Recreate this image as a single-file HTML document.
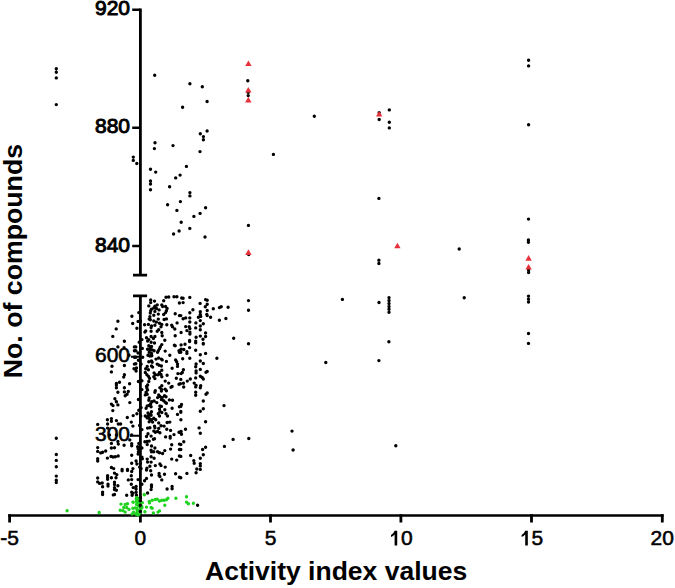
<!DOCTYPE html><html><head><meta charset="utf-8"><style>html,body{margin:0;padding:0;background:#fff;}svg{display:block;}</style></head><body>
<svg width="675" height="588" viewBox="0 0 675 588">
<rect width="675" height="588" fill="#fff"/>
<path d="M140.4 8.6V276.4M133 275.1H147.1M133 295.8H147.1M140.4 294.5V516.9" stroke="#000" stroke-width="2.8" fill="none"/>
<path d="M132.2 9.8H140.4M132.2 127.8H140.4M132.2 245.9H140.4" stroke="#000" stroke-width="2.5" fill="none"/>
<path d="M131 356.8H140.4M130 435.7H140.4" stroke="#000" stroke-width="2" fill="none"/>
<path d="M8.2 515.5H663.6" stroke="#000" stroke-width="2.7" fill="none"/>
<path d="M9.6 514.2V522.6M140.4 514.2V522.6M270.5 514.2V522.6M400.9 514.2V522.6M531.5 514.2V522.6M662.3 514.2V522.6" stroke="#000" stroke-width="2.8" fill="none"/>
<path d="M56.3 68.8h0M56.3 72.2h0M56.3 77.9h0M56.3 104.6h0M56.3 438.2h0M56.3 454.5h0M56.3 460.4h0M56.3 466.7h0M56.3 476.1h0M56.3 480.2h0M56.3 482.6h0M133.3 157.1h0M133.3 160.4h0M136.8 163.5h0M154.7 75.2h0M189.9 83.8h0M202.3 86.8h0M207.1 101.5h0M182.6 107.3h0M207.1 131h0M200.3 133.7h0M203.4 136.6h0M203.4 139.7h0M155 142.7h0M154.4 148.6h0M173 145.6h0M200 151.6h0M150.5 169.2h0M155.7 172.1h0M186.4 166.4h0M180.1 175.1h0M175.7 177.9h0M150.5 181h0M150.5 184h0M150.5 189.8h0M169.6 186.8h0M189.9 192.6h0M189.9 195.9h0M180.4 201.6h0M167.6 204.7h0M176.9 210.4h0M205.6 207.8h0M200.1 213.4h0M193.9 216.4h0M181.2 222.3h0M189.8 228.4h0M179.1 231h0M173.6 234h0M205 237h0M247.8 80.8h0M248.2 92.4h0M248.2 95.6h0M248.4 225.4h0M248.7 254.5h0M314.3 116.3h0M273.4 154.4h0M379.2 112.7h0M379.2 119.5h0M389.3 109.9h0M389.3 122.2h0M389.3 127.9h0M378.9 198.4h0M378.9 260.3h0M378.9 263.5h0M459.2 249h0M528.6 60.2h0M528.6 65.9h0M528.6 124.8h0M528.5 219.1h0M528.4 240h0M528.4 242.3h0M528.6 270h0M528.6 272.5h0M248.5 300.6h0M248.5 310.3h0M248.5 343.8h0M233.7 338.2h0M228.1 307.2h0M225.9 318.5h0M342.4 299.4h0M325.8 362.5h0M379 302.5h0M389 297.6h0M389 300.5h0M389 303.5h0M389 306.5h0M389 309.3h0M389 312.2h0M388.9 341.8h0M378.9 360.6h0M464.2 297.7h0M528.5 296.1h0M528.5 299.2h0M528.5 302.1h0M528.5 333.5h0M528.5 343.4h0M248.8 438.5h0M233.1 439.4h0M292 431.1h0M293.1 450h0M395.8 445.8h0M166 297.3h0M168.7 297h0M174 296.7h0M176.9 296.7h0M179.4 303h0M150.7 299.9h0M154.5 301.1h0M150.7 302.6h0M163.7 300.7h0M148.8 305.9h0M157.2 304.9h0M154.9 306.1h0M161.8 304.9h0M162.6 306.5h0M165.6 306.5h0M167.1 308.4h0M151.5 309.1h0M153.8 308h0M156.4 308.4h0M159.1 309.9h0M150.7 310.7h0M154.9 311.4h0M166.4 310.7h0M165.6 312.6h0M163.7 314.5h0M150.3 313h0M153.8 315.3h0M158.3 314.1h0M175.2 313.7h0M179.4 315.6h0M149.9 316.8h0M149.2 319.1h0M150.3 319.8h0M158.3 319.1h0M164.1 319.5h0M166.4 318.9h0M138.8 312.6h0M138.1 321.4h0M140.4 321h0M153.8 321h0M156.4 322.1h0M159.5 323.3h0M144.6 324.8h0M148.4 324.4h0M151.5 326h0M151.1 327.5h0M154.9 325.2h0M161.8 324.4h0M161 326.7h0M166.8 324.8h0M171.7 325.2h0M172.5 326.7h0M177.1 322.9h0M174.8 329h0M136.9 328.3h0M145.7 330.9h0M144.9 332.1h0M151.1 331.3h0M157.2 331.3h0M158.7 329.8h0M161.8 332.5h0M181.7 298h0M183.1 298.3h0M183.1 302.6h0M189.8 297.4h0M205.6 299.6h0M207.2 300.3h0M200.1 303.4h0M207.2 304.2h0M205.3 306.8h0M213.3 308.8h0M219.4 307.6h0M221.2 306.8h0M192.9 309.7h0M207.2 310.5h0M200.3 311.8h0M189.8 312.8h0M206.8 314.5h0M207.2 315.6h0M200.3 314.5h0M200.7 316.4h0M198.4 317.2h0M210.6 317.2h0M180.8 315.6h0M183.1 318.7h0M185.7 317.9h0M189.8 317.9h0M219.4 320.2h0M200.3 320.6h0M189.8 322h0M195.9 322.9h0M203.3 323.7h0M185.7 326.6h0M189.2 326.7h0M189.9 328.6h0M200.3 326h0M195.7 327.9h0M200.3 329.8h0M186.9 330.6h0M181.1 332.5h0M189.9 332.1h0M189.9 334h0M205.6 332.9h0M131.9 316.2h0M132.7 323.5h0M117.9 321.2h0M116.2 328.9h0M112.8 336.4h0M124.4 341.3h0M117.9 346.9h0M124.1 347.6h0M129 355.3h0M112 366.2h0M124.4 365.5h0M111.4 371.9h0M124.4 374.8h0M123.7 377.1h0M134.4 346.9h0M134.4 350.7h0M134.4 357.2h0M134.4 364.1h0M134 368.7h0M135.8 346.9h0M135.8 350.7h0M138.1 353h0M135.8 357.2h0M135.8 363.7h0M136.5 367.9h0M136.1 371h0M141.9 339.6h0M139.2 342.3h0M142.3 348.4h0M142.7 357.2h0M141.1 364.1h0M138.4 360.3h0M146.5 337.7h0M148.8 339.6h0M147.6 341.1h0M151.1 336.5h0M153.4 338.4h0M154.9 336.5h0M151.1 342.3h0M154.5 343h0M148.8 345.7h0M150.3 347.6h0M151.5 346.5h0M147.6 349.2h0M149.9 349.9h0M152.2 349.9h0M154.1 350.7h0M149.2 352.2h0M151.5 353.4h0M148 355.3h0M149.9 356h0M151.8 355.7h0M148.8 361.8h0M151.5 361h0M152.2 362.2h0M147.2 366.4h0M151.5 366h0M152.6 367.1h0M145.7 368.7h0M148.4 369.8h0M145.3 372.5h0M146.9 374.8h0M148.4 376.3h0M149.5 378.2h0M154.1 372.9h0M155.3 374.8h0M153.8 376.7h0M154.9 378.6h0M162.2 335.8h0M164.8 340.2h0M161.8 344.6h0M160.3 346.9h0M159.5 348.8h0M158.3 350.7h0M157.6 352.2h0M156 359.1h0M158.7 358h0M161.4 359.1h0M162.2 359.9h0M157.2 364.1h0M159.1 365.2h0M161.4 366h0M161.8 370.2h0M159.5 372.5h0M161 374.4h0M161.8 376.7h0M158 374.8h0M165.2 351.1h0M166.4 361.4h0M175.2 335.8h0M174.4 345.3h0M175.2 345.7h0M169.8 355.3h0M179 350.7h0M179.4 352.2h0M175.6 359.9h0M176.7 361.8h0M177.5 364.1h0M177.5 366.4h0M172.1 368.3h0M177.9 373.6h0M167.1 375.2h0M176.3 378.2h0M196.1 337.3h0M200.3 336.1h0M205.6 336.5h0M203 339.2h0M189.6 340.4h0M189.6 341.5h0M195.7 341.1h0M195.7 342.7h0M203.3 343.4h0M203.3 344h0M185 344.2h0M181.1 344.9h0M189.6 347.6h0M181.1 349.2h0M183.8 349.5h0M186.9 351.8h0M186.9 353.4h0M180.8 352.2h0M195.7 350.3h0M200.3 354.7h0M205.6 353.4h0M182.7 358.7h0M189.8 358.3h0M216.9 358.3h0M200.3 361h0M203.3 363.5h0M196.1 363.9h0M195.7 366.8h0M200.3 369.4h0M183.4 369.8h0M182.3 372.5h0M181.1 373.6h0M196.1 371h0M196.1 372.9h0M206 372.3h0M207.2 371.4h0M200.3 376.3h0M202.2 377.5h0M203.3 379h0M190.3 379h0M195.7 377.9h0M180.8 379.4h0M116.4 383.4h0M119.5 382.3h0M116.4 385h0M116.4 387.7h0M129.6 383.8h0M124.4 387.7h0M117.9 392.2h0M124.4 391.9h0M128.3 391.5h0M127.1 394.2h0M125.2 395.7h0M114.9 398.8h0M116.4 401.8h0M117.9 404.9h0M111.4 404.1h0M113 405.6h0M129.8 402.6h0M112.8 410.6h0M133.2 415.6h0M127.3 417.5h0M107.4 419.8h0M111.4 418.6h0M111.4 421.3h0M116.4 420.6h0M131.3 422.1h0M97.7 424.4h0M107.6 424h0M118.3 424h0M120.6 424h0M138.4 381.5h0M141.9 380.8h0M141.9 389.6h0M138.4 399.5h0M141.1 407.6h0M138.8 410.2h0M136.9 413.7h0M140.7 416h0M148.8 381.5h0M147.6 385h0M146.5 386.5h0M146.9 388h0M147.6 389.9h0M146.1 392.2h0M145.3 394.9h0M147.2 394.2h0M149.2 398h0M148.8 400.3h0M151.8 401.8h0M154.1 401h0M156.8 402.6h0M150.7 403.7h0M149.5 405.3h0M147.2 406h0M146.1 408.3h0M151.1 406.8h0M151.5 411.8h0M148 412.9h0M145.3 416h0M148.4 416h0M150.7 414.1h0M151.1 415.2h0M147.2 417.9h0M149.5 418.6h0M151.5 419.8h0M153.8 418.3h0M155.7 419.8h0M149.2 421.7h0M152.6 422.1h0M154.9 392.2h0M155.3 390.7h0M165.2 381.1h0M168.7 383.1h0M161.8 385.7h0M159.9 387.7h0M161.8 389.6h0M161.4 391.1h0M165.2 389.2h0M166.4 390.7h0M158.7 394.9h0M157.6 397.6h0M159.9 396.5h0M162.2 397.6h0M164.5 395.7h0M166 396.8h0M161.4 399.5h0M163.7 400.7h0M165.2 402.2h0M166.4 403.3h0M169.4 399.9h0M172.5 400.3h0M171 387.3h0M172.1 386.5h0M159.9 406h0M161.4 406.4h0M159.5 409.1h0M159.9 411.4h0M158.3 413.7h0M159.5 416h0M161.8 412.5h0M164.8 409.8h0M166 413.7h0M167.5 416h0M158.7 422.9h0M167.1 422.5h0M169.8 422.1h0M172.1 408.2h0M179 384.2h0M179.4 406.8h0M177.5 414.4h0M187.3 381.1h0M183.4 383.2h0M180.4 383.8h0M183.7 387h0M194.2 383.1h0M196.1 385.4h0M195.7 386.9h0M200.7 385.7h0M200.3 387.7h0M195.7 392.2h0M195.7 395.3h0M206 394.2h0M207.2 392.9h0M203.3 401h0M181.5 404.5h0M180.8 406.4h0M224 405.6h0M203.3 408.7h0M200.3 411.2h0M180.8 411.4h0M180.8 412.3h0M180.9 419.8h0M205.6 421.7h0M107.6 428.1h0M111.4 443.4h0M116.4 434.9h0M109.5 434.9h0M117.9 441.5h0M118.3 444.1h0M124.1 445.3h0M129.8 439.9h0M131.7 443.8h0M131.7 445.7h0M131.7 434.9h0M132.9 426.1h0M97.7 447.6h0M97.7 451.4h0M100.7 452.9h0M102.6 452.2h0M105.7 451h0M111.4 448h0M114.5 447.8h0M97.7 458.7h0M97.7 461h0M107.4 458.1h0M111 456.4h0M113 457h0M115.3 456.8h0M118.2 456h0M131.7 455.2h0M131.7 463.3h0M111.4 467.5h0M113.7 468.6h0M122.1 469.4h0M127.5 469.4h0M132.9 468.6h0M139.6 425.4h0M141.9 429.6h0M138.8 443.4h0M138.1 448.7h0M138.1 454.1h0M141.9 457.1h0M136.1 461h0M136.9 464h0M139.6 467.1h0M141.1 468.6h0M147.6 428.1h0M149.9 427.7h0M154.5 426.1h0M154.9 427.7h0M161 425.8h0M164.1 426.1h0M158.7 428.4h0M153.8 431.1h0M155.3 432.3h0M157.6 431.5h0M159.9 432.7h0M166.8 429.2h0M170.6 430.4h0M179 432.3h0M148 433.8h0M146.5 436.5h0M151.1 436.1h0M165.6 436.9h0M170.2 436.5h0M170.2 438h0M174 434.6h0M153.4 439.2h0M154.5 438.8h0M144.9 441.8h0M147.2 441.5h0M149.2 441.1h0M147.2 444.5h0M171.7 444.7h0M179.4 444.1h0M151.5 446h0M154.9 448h0M170.6 449.1h0M151.1 450.3h0M151.5 451.8h0M153.8 451.8h0M157.6 451.8h0M159.5 452.7h0M162.6 453.5h0M164.8 450.6h0M179.4 449.5h0M151.1 456.8h0M154.1 458.3h0M147.2 459.1h0M147.6 462.1h0M151.1 462.1h0M171.7 459.1h0M176.7 460.1h0M179.4 456h0M155.3 465.6h0M159.9 464h0M161 465.6h0M165.2 467.1h0M149.9 466.3h0M146.9 468.2h0M185.5 429.2h0M199.1 427.9h0M200.3 433.3h0M181.1 431.5h0M181.5 434.2h0M180.8 432.7h0M183.8 441.7h0M180.8 444.5h0M180.8 449.5h0M180.8 456.4h0M190.7 455.5h0M205.6 447.2h0M202.6 449.5h0M203.3 454.8h0M200.3 458.3h0M193.8 460.6h0M194.2 463.3h0M200.3 463.6h0M200.3 465.9h0M196.8 469h0M200.3 469.4h0M224.4 446.4h0M122.1 470.8h0M127.5 470.4h0M131.7 471.5h0M114.5 473.1h0M116.8 474.6h0M107.6 475.7h0M107.6 477.3h0M107.6 479.2h0M111.4 477.7h0M116 477.7h0M97.7 478h0M97.7 481.9h0M99.6 483.4h0M102.2 483h0M131.3 475.7h0M131.7 479.6h0M128.3 479.9h0M102.6 486.8h0M108 484.2h0M108 486.1h0M114.5 482.2h0M114.5 484.5h0M117.9 485.7h0M114.5 487.6h0M114.5 489.5h0M116.4 490.3h0M131.3 484.2h0M133.2 487.6h0M102.6 492.2h0M102.6 494.5h0M113.3 494.9h0M114.5 494.5h0M126.7 495.3h0M131.7 492.2h0M132.1 495.3h0M132.9 493.3h0M146.5 470h0M150.7 470.8h0M151.5 475h0M159.1 473.4h0M159.1 475.4h0M159.9 476.5h0M164.5 474.2h0M175.6 473.8h0M179.4 477.3h0M146.5 478.4h0M144.6 480.7h0M138.1 479.6h0M161.8 479.9h0M141.9 484.2h0M151.5 484.9h0M151.5 486.8h0M151.1 489.5h0M167.1 489h0M172.1 486.5h0M172.1 488.8h0M147.6 493h0M136.1 486.5h0M136.1 489.1h0M136.1 492.2h0M136.5 495.3h0M186.9 473.4h0M196.1 472.7h0M180.8 477.7h0M197.6 505.2h0M137.7 446.8h0M138.4 451.8h0M141.9 448h0M142.3 458.7h0M140.4 463.3h0" stroke="#000" stroke-width="3.4" stroke-linecap="round" fill="none"/>
<path d="M67.1 510.8h0M121 504.1h0M125.2 504.4h0M127.5 503.7h0M132.9 502.1h0M123.7 507.5h0M126.7 507.5h0M129 509.4h0M120.2 510.2h0M122.9 510.6h0M125.2 512.1h0M99.2 512.5h0M132.9 508.3h0M133.6 512.1h0M144.2 494.5h0M175.9 498.3h0M167.9 498.3h0M166.4 499.8h0M164.1 500.2h0M161.8 500.2h0M159.5 501h0M157.2 499.1h0M155.3 499.5h0M152.2 500.2h0M149.2 501.4h0M149.5 502.9h0M164.8 505.2h0M146.5 507.1h0M151.1 507.5h0M152.2 508.3h0M144.9 511.7h0M153.4 512.9h0M158 512.1h0M159.5 510.9h0M136.5 497.6h0M138.8 499.1h0M136.5 501.4h0M139.6 502.1h0M141.9 502.9h0M136.5 504.4h0M138.8 506h0M141.9 507.5h0M136.5 508.3h0M139.6 509.8h0M137.3 511.3h0M140.4 512.5h0M135.8 514h0M138.8 514.4h0M186.5 496.8h0M186.5 502.1h0M188.4 503.7h0M193.4 503.3h0M144.4 494.8h0M136.2 499.2h0M139.3 498.2h0M138.3 501.7h0M140.3 502.8h0M133.2 502.2h0M135.2 507.9h0M137.2 510.4h0M136.7 513.5h0M137.8 515h0M141.8 506.8h0M142.3 502.8h0M132.1 514h0M139.8 511.4h0M140.8 509.4h0M138.8 505.3h0" stroke="#1ed21e" stroke-width="3.4" stroke-linecap="round" fill="none"/>
<path d="M140.3 500.7h0M140.3 505.3h0M140.4 497.5h0M140.4 511.5h0" stroke="#000" stroke-width="3.4" stroke-linecap="round" fill="none"/>
<path d="M248.4 60.5L251.6 66.1L245.2 66.1Z" fill="#e8303a"/>
<path d="M248.3 87L251.5 92.6L245.1 92.6Z" fill="#e8303a"/>
<path d="M248.3 96.8L251.5 102.4L245.1 102.4Z" fill="#e8303a"/>
<path d="M248.4 249.3L251.6 254.9L245.2 254.9Z" fill="#e8303a"/>
<path d="M379.2 111L382.4 116.6L376 116.6Z" fill="#e8303a"/>
<path d="M397.4 242.7L400.6 248.3L394.2 248.3Z" fill="#e8303a"/>
<path d="M528.6 255.1L531.8 260.7L525.4 260.7Z" fill="#e8303a"/>
<path d="M528.6 264L531.8 269.6L525.4 269.6Z" fill="#e8303a"/>
<text x="9.6" y="545" font-family='"Liberation Sans", sans-serif' font-weight="normal" font-size="21" stroke="#000" stroke-width="0.55" text-anchor="middle">-5</text>
<text x="140.4" y="545" font-family='"Liberation Sans", sans-serif' font-weight="normal" font-size="21" stroke="#000" stroke-width="0.55" text-anchor="middle">0</text>
<text x="270.5" y="545" font-family='"Liberation Sans", sans-serif' font-weight="normal" font-size="21" stroke="#000" stroke-width="0.55" text-anchor="middle">5</text>
<path d="M394.62 530.80L397.22 530.80L397.22 545.60L394.62 545.60L394.62 534.60Q393.22 536.30 391.02 536.90L391.02 534.90Q393.82 533.60 394.62 530.80Z" fill="#000"/>
<text x="400.9" y="545" font-family='"Liberation Sans", sans-serif' font-weight="normal" font-size="21" stroke="#000" stroke-width="0.55">0</text>
<path d="M525.22 530.80L527.82 530.80L527.82 545.60L525.22 545.60L525.22 534.60Q523.82 536.30 521.62 536.90L521.62 534.90Q524.42 533.60 525.22 530.80Z" fill="#000"/>
<text x="531.5" y="545" font-family='"Liberation Sans", sans-serif' font-weight="normal" font-size="21" stroke="#000" stroke-width="0.55">5</text>
<text x="662.3" y="545" font-family='"Liberation Sans", sans-serif' font-weight="normal" font-size="21" stroke="#000" stroke-width="0.55" text-anchor="middle">20</text>
<text x="130" y="15.4" font-family='"Liberation Sans", sans-serif' font-weight="normal" font-size="21" text-anchor="end" stroke="#000" stroke-width="0.95">920</text>
<text x="130" y="133.4" font-family='"Liberation Sans", sans-serif' font-weight="normal" font-size="21" text-anchor="end" stroke="#000" stroke-width="0.95">880</text>
<text x="130" y="251.5" font-family='"Liberation Sans", sans-serif' font-weight="normal" font-size="21" text-anchor="end" stroke="#000" stroke-width="0.95">840</text>
<text x="130" y="362.4" font-family='"Liberation Sans", sans-serif' font-weight="normal" font-size="21" text-anchor="end" stroke="#000" stroke-width="0.6">600</text>
<text x="130" y="441.3" font-family='"Liberation Sans", sans-serif' font-weight="normal" font-size="21" text-anchor="end" stroke="#000" stroke-width="0.6">300</text>
<text x="205" y="580.4" font-family='"Liberation Sans", sans-serif' font-weight="bold" font-size="26.5">Activity index values</text>
<text transform="translate(21.9 378.2) rotate(-90)" font-family='"Liberation Sans", sans-serif' font-weight="bold" font-size="26.7">No. of compounds</text>
</svg></body></html>
